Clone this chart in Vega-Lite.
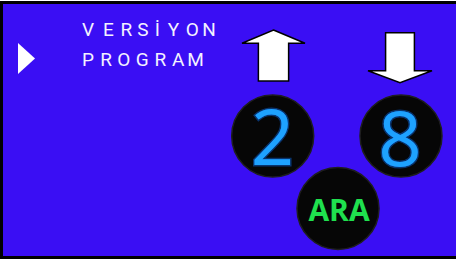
{
  "$schema": "https://vega.github.io/schema/vega-lite/v6.json",
  "width": 456,
  "height": 265,
  "autosize": {"type": "none"},
  "padding": 0,
  "background": "white",
  "config": {"view": {"stroke": null}},
  "datasets": {
    "panel": [{"x0": 1.5, "x1": 462, "y0": 2.5, "y1": 257.5}],
    "cursor": [{"x": 26.5, "y": 58.5}],
    "up": [{"x": 273.5, "y": 55.5}],
    "down": [{"x": 400, "y": 57.7}],
    "buttons": [
      {"label": "2", "x": 272.7, "y": 136},
      {"label": "8", "x": 401, "y": 136},
      {"label": "ARA", "x": 338, "y": 208.5}
    ],
    "digits": [
      {"label": "2", "x": 272.5, "y": 164.5},
      {"label": "8", "x": 400, "y": 165.5}
    ],
    "search": [{"label": "ARA", "x": 339, "y": 220.5}],
    "letters": [
      {"t": "V", "x": 88, "y": 36},
      {"t": "E", "x": 108.5, "y": 36},
      {"t": "R", "x": 126.3, "y": 36},
      {"t": "S", "x": 143, "y": 36},
      {"t": "İ", "x": 157.4, "y": 36},
      {"t": "Y", "x": 173.4, "y": 36},
      {"t": "O", "x": 192.4, "y": 36},
      {"t": "N", "x": 209, "y": 36},
      {"t": "P", "x": 88, "y": 66.3},
      {"t": "R", "x": 106, "y": 66.3},
      {"t": "O", "x": 123.8, "y": 66.3},
      {"t": "G", "x": 142.2, "y": 66.3},
      {"t": "R", "x": 160.3, "y": 66.3},
      {"t": "A", "x": 178.2, "y": 66.3},
      {"t": "M", "x": 195.5, "y": 66.3}
    ]
  },
  "layer": [
    {
      "data": {"name": "panel"},
      "mark": {"type": "rect", "fill": "#3a0ef4", "stroke": "#000000", "strokeWidth": 3},
      "encoding": {
        "x": {"field": "x0", "type": "quantitative", "scale": {"domain": [0, 456], "nice": false, "zero": false}, "axis": null},
        "x2": {"field": "x1"},
        "y": {"field": "y0", "type": "quantitative", "scale": {"domain": [0, 265], "nice": false, "zero": false, "reverse": true}, "axis": null},
        "y2": {"field": "y1"}
      }
    },
    {
      "data": {"name": "cursor"},
      "mark": {"type": "point", "shape": "M-0.55,-1L0.55,0L-0.55,1Z", "size": 961, "filled": true, "fill": "#ffffff", "stroke": null, "opacity": 1},
      "encoding": {
        "x": {"field": "x", "type": "quantitative", "scale": {"domain": [0, 456], "nice": false, "zero": false}, "axis": null},
        "y": {"field": "y", "type": "quantitative", "scale": {"domain": [0, 265], "nice": false, "zero": false, "reverse": true}, "axis": null}
      }
    },
    {
      "data": {"name": "up"},
      "mark": {"type": "point", "shape": "M0,-0.81L1,-0.39L0.48,-0.39L0.48,0.81L-0.48,0.81L-0.48,-0.39L-1,-0.39Z", "size": 3969, "filled": true, "fill": "#ffffff", "stroke": "#000000", "strokeWidth": 1.5, "opacity": 1},
      "encoding": {
        "x": {"field": "x", "type": "quantitative", "scale": {"domain": [0, 456], "nice": false, "zero": false}, "axis": null},
        "y": {"field": "y", "type": "quantitative", "scale": {"domain": [0, 265], "nice": false, "zero": false, "reverse": true}, "axis": null}
      }
    },
    {
      "data": {"name": "down"},
      "mark": {"type": "point", "shape": "M-0.45,-0.78L0.45,-0.78L0.45,0.41L1,0.41L0,0.78L-1,0.41L-0.45,0.41Z", "size": 4096, "filled": true, "fill": "#ffffff", "stroke": "#000000", "strokeWidth": 1.5, "opacity": 1},
      "encoding": {
        "x": {"field": "x", "type": "quantitative", "scale": {"domain": [0, 456], "nice": false, "zero": false}, "axis": null},
        "y": {"field": "y", "type": "quantitative", "scale": {"domain": [0, 265], "nice": false, "zero": false, "reverse": true}, "axis": null}
      }
    },
    {
      "data": {"name": "buttons"},
      "mark": {"type": "point", "shape": "circle", "size": 6724, "filled": true, "fill": "#060606", "stroke": "#1e1e1e", "strokeWidth": 1.5, "opacity": 1},
      "encoding": {
        "x": {"field": "x", "type": "quantitative", "scale": {"domain": [0, 456], "nice": false, "zero": false}, "axis": null},
        "y": {"field": "y", "type": "quantitative", "scale": {"domain": [0, 265], "nice": false, "zero": false, "reverse": true}, "axis": null}
      }
    },
    {
      "data": {"name": "digits"},
      "mark": {"type": "text", "font": "Open Sans", "fontSize": 76, "fontWeight": 400, "align": "center", "baseline": "alphabetic", "fill": "#0b5fd0", "stroke": "#0b5fd0", "strokeWidth": 3, "strokeOpacity": 0.5, "opacity": 1},
      "encoding": {
        "x": {"field": "x", "type": "quantitative", "scale": {"domain": [0, 456], "nice": false, "zero": false}, "axis": null},
        "y": {"field": "y", "type": "quantitative", "scale": {"domain": [0, 265], "nice": false, "zero": false, "reverse": true}, "axis": null},
        "text": {"field": "label"}
      }
    },
    {
      "data": {"name": "digits"},
      "mark": {"type": "text", "font": "Open Sans", "fontSize": 76, "fontWeight": 400, "align": "center", "baseline": "alphabetic", "fill": "#1ea2ff"},
      "encoding": {
        "x": {"field": "x", "type": "quantitative", "scale": {"domain": [0, 456], "nice": false, "zero": false}, "axis": null},
        "y": {"field": "y", "type": "quantitative", "scale": {"domain": [0, 265], "nice": false, "zero": false, "reverse": true}, "axis": null},
        "text": {"field": "label"}
      }
    },
    {
      "data": {"name": "search"},
      "mark": {"type": "text", "font": "Open Sans", "fontSize": 30, "fontWeight": "bold", "align": "center", "baseline": "alphabetic", "fill": "#1fe04e"},
      "encoding": {
        "x": {"field": "x", "type": "quantitative", "scale": {"domain": [0, 456], "nice": false, "zero": false}, "axis": null},
        "y": {"field": "y", "type": "quantitative", "scale": {"domain": [0, 265], "nice": false, "zero": false, "reverse": true}, "axis": null},
        "text": {"field": "label"}
      }
    },
    {
      "data": {"name": "letters"},
      "mark": {"type": "text", "font": "Roboto", "fontSize": 19, "fontWeight": 400, "align": "center", "baseline": "alphabetic", "fill": "#f4f2ff"},
      "encoding": {
        "x": {"field": "x", "type": "quantitative", "scale": {"domain": [0, 456], "nice": false, "zero": false}, "axis": null},
        "y": {"field": "y", "type": "quantitative", "scale": {"domain": [0, 265], "nice": false, "zero": false, "reverse": true}, "axis": null},
        "text": {"field": "t"}
      }
    }
  ]
}
